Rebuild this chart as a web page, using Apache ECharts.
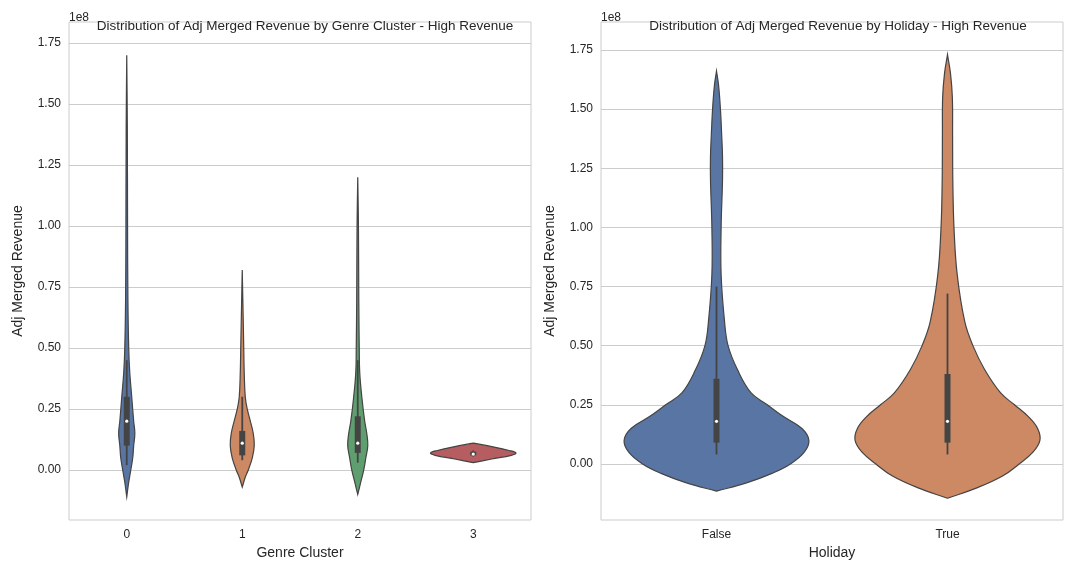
<!DOCTYPE html>
<html>
<head>
<meta charset="utf-8">
<script src="https://cdn.jsdelivr.net/npm/echarts@6/dist/echarts.min.js"></script>
<style>html,body{margin:0;padding:0;background:#fff}#main{width:1080px;height:576px}</style>
</head>
<body>
<div id="main"></div>
<script>
// values in units of 1e8
const clusterCats = ['0', '1', '2', '3'];
const clusterColors = ['#5975a4', '#cc8963', '#5f9e6e', '#b55d60'];
const clusterY = [
  [-0.11, -0.05, 0, 0.05, 0.1, 0.15, 0.2, 0.3, 0.4, 0.5, 0.7, 1.0, 1.4, 1.7],
  [-0.07, -0.03, 0, 0.05, 0.1, 0.15, 0.2, 0.25, 0.3, 0.4, 0.5, 0.6, 0.82],
  [-0.10, -0.05, 0, 0.05, 0.1, 0.15, 0.2, 0.3, 0.4, 0.5, 0.7, 1.0, 1.2],
  [0.03, 0.045, 0.06, 0.07, 0.08, 0.095, 0.11]
];
// half width as % of category band
const clusterW = [
  [0, 1.7, 3.5, 5.2, 6, 7, 6, 4.3, 2.6, 1.7, 1, 0.7, 0.5, 0],
  [0, 2.6, 5.2, 8.7, 10.4, 9.5, 7, 4.3, 2.6, 1.7, 1.3, 0.9, 0],
  [0, 2.6, 5.2, 7, 8.7, 7.8, 6, 3.5, 1.7, 1.3, 0.9, 0.6, 0],
  [0, 16, 33, 37, 31, 17, 0]
];
// [whiskerLow, q1, median, q3, whiskerHigh]
const clusterBox = [
  [0.02, 0.1, 0.2, 0.3, 0.45],
  [0.04, 0.06, 0.11, 0.16, 0.3],
  [0.03, 0.07, 0.11, 0.22, 0.45],
  [0.055, 0.06, 0.065, 0.075, 0.08]
];

const holidayCats = ['False', 'True'];
const holidayColors = ['#5975a4', '#cc8963'];
const holidayY = [
  [-0.115, -0.08, -0.04, 0, 0.05, 0.1, 0.15, 0.2, 0.25, 0.3, 0.4, 0.5, 0.6, 0.8, 1.0, 1.2, 1.3, 1.4, 1.5, 1.6, 1.66],
  [-0.145, -0.1, -0.05, 0, 0.05, 0.1, 0.15, 0.2, 0.25, 0.3, 0.4, 0.5, 0.6, 0.8, 1.0, 1.2, 1.4, 1.55, 1.65, 1.73]
];
const holidayW = [
  [0, 13, 24, 32, 38, 40, 37, 29, 22, 15, 9, 5, 3.5, 2, 2, 2.6, 2.6, 2.2, 1.7, 0.9, 0],
  [0, 13, 24, 31, 37, 40, 39, 35, 29, 23, 16, 11, 7.5, 4.2, 2.8, 2.3, 2.2, 2.1, 1.3, 0]
];
const holidayBox = [
  [0.04, 0.09, 0.18, 0.36, 0.75],
  [0.04, 0.09, 0.18, 0.38, 0.72]
];
const yTicks = [0, 0.25, 0.5, 0.75, 1.0, 1.25, 1.5, 1.75];

const chart = echarts.init(document.getElementById('main'));

function violinItem(ys, ws, boxes, colors) {
  return function (params, api) {
    const c = api.value(0);
    const band = api.size([1, 0])[0];
    const right = [], left = [];
    ys[c].forEach((y, i) => {
      const p = api.coord([c, y]);
      const hw = band * ws[c][i] / 100;
      right.push([p[0] + hw, p[1]]);
      left.unshift([p[0] - hw, p[1]]);
    });
    const b = boxes[c];
    const lo = api.coord([c, b[0]]), q1 = api.coord([c, b[1]]),
      md = api.coord([c, b[2]]), q3 = api.coord([c, b[3]]), hi = api.coord([c, b[4]]);
    return {
      type: 'group',
      children: [
        {type: 'polygon', shape: {points: right.concat(left), smooth: 0.4},
          style: {fill: colors[c], stroke: '#444', lineWidth: 1.2}},
        {type: 'line', shape: {x1: lo[0], y1: lo[1], x2: hi[0], y2: hi[1]},
          style: {stroke: '#444', lineWidth: 1.8}},
        {type: 'rect', shape: {x: q3[0] - 3, y: q3[1], width: 6, height: q1[1] - q3[1]},
          style: {fill: '#444'}},
        {type: 'circle', shape: {cx: md[0], cy: md[1], r: 1.6}, style: {fill: '#fff'}}
      ]
    };
  };
}

function gridLines(xi) {
  return {
    type: 'line', xAxisIndex: xi, yAxisIndex: xi, data: [], silent: true, z: 0,
    markLine: {symbol: 'none', silent: true, z: 0, label: {show: false},
      lineStyle: {color: '#cccccc', width: 1, type: 'solid'},
      data: yTicks.map(v => ({yAxis: v}))}
  };
}

const font = 'Liberation Sans';
const txt = {color: '#262626', fontFamily: font, fontSize: 12};

chart.setOption({
  animation: false,
  title: [
    {text: 'Distribution of Adj Merged Revenue by Genre Cluster - High Revenue', left: 300, top: 14,
      textAlign: 'center', textStyle: {...txt, fontSize: 13.5, fontWeight: 'normal'}},
    {text: 'Distribution of Adj Merged Revenue by Holiday - High Revenue', left: 833, top: 14,
      textAlign: 'center', textStyle: {...txt, fontSize: 13.5, fontWeight: 'normal'}}
  ],
  graphic: [
    {type: 'text', left: 69, top: 12, style: {text: '1e8', fill: '#262626', font: '12px Liberation Sans'}},
    {type: 'text', left: 601, top: 12, style: {text: '1e8', fill: '#262626', font: '12px Liberation Sans'}}
  ],
  grid: [
    {left: 69, right: 549, top: 22, bottom: 56, show: true, borderColor: '#cccccc', borderWidth: 1},
    {left: 601, right: 17, top: 22, bottom: 56, show: true, borderColor: '#cccccc', borderWidth: 1}
  ],
  xAxis: [
    {type: 'category', gridIndex: 0, data: clusterCats, name: 'Genre Cluster', nameLocation: 'middle',
      nameGap: 25, nameTextStyle: {...txt, fontSize: 14},
      axisLine: {show: false}, axisTick: {show: false}, axisLabel: {...txt, margin: 9}},
    {type: 'category', gridIndex: 1, data: holidayCats, name: 'Holiday', nameLocation: 'middle',
      nameGap: 25, nameTextStyle: {...txt, fontSize: 14},
      axisLine: {show: false}, axisTick: {show: false}, axisLabel: {...txt, margin: 9}}
  ],
  yAxis: [
    {type: 'value', gridIndex: 0, min: -0.205, max: 1.836, name: 'Adj Merged Revenue',
      nameLocation: 'middle', nameGap: 44, nameTextStyle: {...txt, fontSize: 14},
      axisLine: {show: false}, axisTick: {show: false}, splitLine: {show: false},
      axisLabel: {...txt, customValues: yTicks, formatter: v => v.toFixed(2)}},
    {type: 'value', gridIndex: 1, min: -0.237, max: 1.868, name: 'Adj Merged Revenue',
      nameLocation: 'middle', nameGap: 44, nameTextStyle: {...txt, fontSize: 14},
      axisLine: {show: false}, axisTick: {show: false}, splitLine: {show: false},
      axisLabel: {...txt, customValues: yTicks, formatter: v => v.toFixed(2)}}
  ],
  series: [
    gridLines(0),
    gridLines(1),
    {type: 'custom', xAxisIndex: 0, yAxisIndex: 0, clip: false, z: 5,
      renderItem: violinItem(clusterY, clusterW, clusterBox, clusterColors),
      data: clusterCats.map((c, i) => [i])},
    {type: 'custom', xAxisIndex: 1, yAxisIndex: 1, clip: false, z: 5,
      renderItem: violinItem(holidayY, holidayW, holidayBox, holidayColors),
      data: holidayCats.map((c, i) => [i])}
  ]
});
</script>
</body>
</html>
